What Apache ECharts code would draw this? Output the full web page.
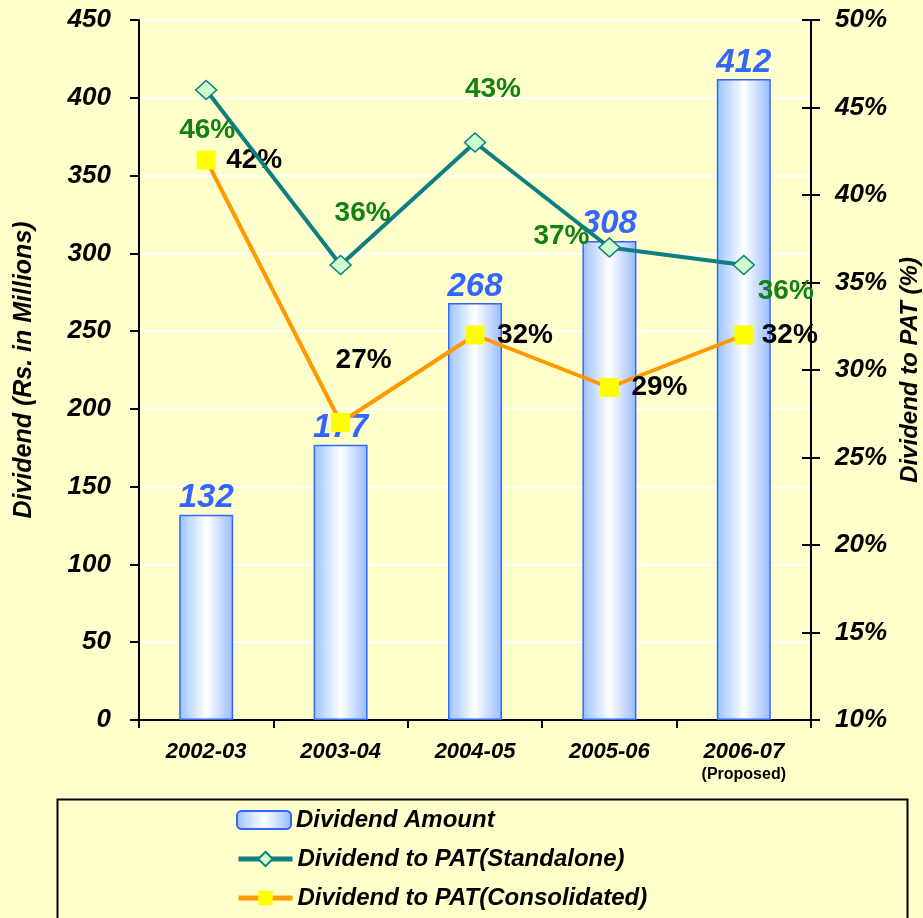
<!DOCTYPE html>
<html>
<head>
<meta charset="utf-8">
<title>Dividend</title>
<script src="https://cdn.jsdelivr.net/npm/echarts@6/dist/echarts.min.js"></script>
<style>
  html, body { margin: 0; padding: 0; background: #FFFFCC; }
  #chart { width: 923px; height: 918px; }
</style>
</head>
<body>
<div id="chart"></div>
<script>
// data
const years = ['2002-03', '2003-04', '2004-05', '2005-06', '2006-07']
const dividendAmount = [132, 177, 268, 308, 412]
const patStandalone = [46, 36, 43, 37, 36]
const patConsolidated = [42, 27, 32, 29, 32]
const leftTicks = [0, 450, 50]
const rightTicks = [10, 50, 5]
const seriesNames = ['Dividend Amount', 'Dividend to PAT(Standalone)', 'Dividend to PAT(Consolidated)']

// label placement per point (style only)
const standaloneLabelOffset = [[1, 40], [22, -52], [18, -53], [-48, -11], [42, 26]]
const consolidatedLabelOffset = [[48, 0], [23, -62], [50, 0], [50, 0], [46, 0]]
const legendTops = [808, 847, 886]

const arial = "'Liberation Sans', Arial, sans-serif"

const chart = echarts.init(document.getElementById('chart'))

function legendFor(name, i) {
  return {
    orient: 'vertical',
    left: 236,
    top: legendTops[i],
    padding: 0,
    itemWidth: 54,
    itemHeight: 18,
    itemGap: 8,
    lineStyle: { width: 5 },
    textStyle: {
      fontFamily: arial,
      fontSize: 24,
      fontWeight: 'bold',
      fontStyle: 'italic',
      color: '#000'
    },
    data: [name]
  }
}

chart.setOption({
  backgroundColor: '#FFFFCC',
  animation: false,
  grid: {
    left: 139,
    right: 112,
    top: 20,
    bottom: 198,
    outerBoundsMode: 'none'
  },
  legend: seriesNames.map(legendFor),
  graphic: [{
    type: 'rect',
    left: 55,
    top: 797,
    shape: { width: 850, height: 130 },
    style: { fill: 'none', stroke: '#000', lineWidth: 2 },
    z: -1
  }],
  xAxis: {
    type: 'category',
    data: years,
    axisLine: { lineStyle: { color: '#000', width: 2 } },
    axisTick: { show: true, length: 8, lineStyle: { color: '#000', width: 2 } },
    axisLabel: {
      interval: 0,
      margin: 19,
      lineHeight: 25,
      formatter: function (v) {
        return v === '2006-07' ? v + '\n{sub|(Proposed)}' : v
      },
      fontFamily: arial,
      fontSize: 22,
      fontWeight: 'bold',
      fontStyle: 'italic',
      color: '#000',
      rich: {
        sub: {
          fontFamily: arial,
          fontSize: 16,
          fontWeight: 'bold',
          fontStyle: 'normal',
          color: '#000',
          lineHeight: 22
        }
      }
    }
  },
  yAxis: [{
    type: 'value',
    min: leftTicks[0],
    max: leftTicks[1],
    interval: leftTicks[2],
    name: 'Dividend (Rs. in Millions)',
    nameLocation: 'middle',
    nameGap: 102,
    nameTextStyle: {
      fontFamily: arial,
      fontSize: 25,
      fontWeight: 'bold',
      fontStyle: 'italic',
      color: '#000'
    },
    axisLine: { show: true, lineStyle: { color: '#000', width: 2 } },
    axisTick: { show: true, length: 9, lineStyle: { color: '#000', width: 2 } },
    axisLabel: {
      margin: 28,
      fontFamily: arial,
      fontSize: 26,
      fontWeight: 'bold',
      fontStyle: 'italic',
      color: '#000'
    },
    splitLine: { show: true, lineStyle: { color: '#FFFFFF', width: 2 } }
  }, {
    type: 'value',
    position: 'right',
    min: rightTicks[0],
    max: rightTicks[1],
    interval: rightTicks[2],
    name: 'Dividend to PAT (%)',
    nameLocation: 'middle',
    nameGap: 84,
    nameRotate: 90,
    nameTextStyle: {
      fontFamily: arial,
      fontSize: 24,
      fontWeight: 'bold',
      fontStyle: 'italic',
      color: '#000'
    },
    axisLine: { show: true, lineStyle: { color: '#000', width: 2 } },
    axisTick: { show: true, length: 9, lineStyle: { color: '#000', width: 2 } },
    axisLabel: {
      margin: 24,
      formatter: '{value}%',
      fontFamily: arial,
      fontSize: 26,
      fontWeight: 'bold',
      fontStyle: 'italic',
      color: '#000'
    },
    splitLine: { show: false }
  }, {
    // inner half of the crossing ticks on the right axis
    type: 'value',
    position: 'right',
    min: rightTicks[0],
    max: rightTicks[1],
    interval: rightTicks[2],
    axisLine: { show: false },
    axisTick: { show: true, inside: true, length: 9, lineStyle: { color: '#000', width: 2 } },
    axisLabel: { show: false },
    splitLine: { show: false }
  }],
  series: [{
    name: seriesNames[0],
    type: 'bar',
    barWidth: 54,
    data: dividendAmount,
    itemStyle: {
      color: new echarts.graphic.LinearGradient(0, 0, 1, 0, [
        { offset: 0, color: '#99C2FF' },
        { offset: 0.5, color: '#FFFFFF' },
        { offset: 1, color: '#99BBFF' }
      ]),
      borderColor: '#3366FF',
      borderWidth: 1.5
    },
    label: {
      show: true,
      position: 'top',
      distance: 0,
      fontFamily: arial,
      fontSize: 33,
      fontWeight: 'bold',
      fontStyle: 'italic',
      color: '#3366FF'
    },
    z: 1
  }, {
    name: seriesNames[1],
    type: 'line',
    yAxisIndex: 1,
    data: patStandalone.map(function (v, i) {
      return { value: v, label: { offset: standaloneLabelOffset[i] } }
    }),
    symbol: 'diamond',
    symbolSize: [21, 19],
    lineStyle: { color: '#0E7F7F', width: 4 },
    itemStyle: { color: '#CCFFCC', borderColor: '#0E7F7F', borderWidth: 1.5 },
    label: {
      show: true,
      position: 'inside',
      formatter: '{c}%',
      fontFamily: arial,
      fontSize: 28,
      fontWeight: 'bold',
      color: '#128012'
    },
    z: 3
  }, {
    name: seriesNames[2],
    type: 'line',
    yAxisIndex: 1,
    data: patConsolidated.map(function (v, i) {
      return { value: v, label: { offset: consolidatedLabelOffset[i] } }
    }),
    symbol: 'rect',
    symbolSize: 19,
    lineStyle: { color: '#FF9900', width: 4 },
    itemStyle: { color: '#FFFF00', borderWidth: 0 },
    label: {
      show: true,
      position: 'inside',
      formatter: '{c}%',
      fontFamily: arial,
      fontSize: 28,
      fontWeight: 'bold',
      color: '#000'
    },
    z: 2
  }]
})
</script>
</body>
</html>
